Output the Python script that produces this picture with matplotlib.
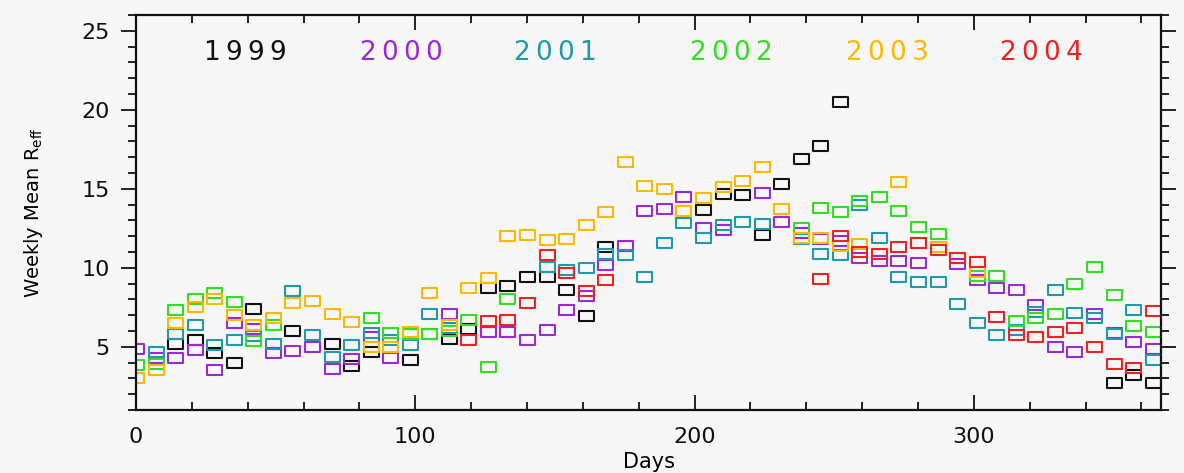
import numpy as np
import matplotlib
matplotlib.use("Agg")
import matplotlib.pyplot as plt
from matplotlib.path import Path
from matplotlib.ticker import MultipleLocator

nan = np.nan

# Day of year for each weekly mean
days = list(range(0, 365, 7))

r1999 = [nan, nan, 5.2, 5.4, 4.6, 3.95, 7.4, nan, 6.0, nan, 5.15, 3.8, 4.7, nan,
         4.16, 5.84, 5.5, 6.1, 8.7, 8.86, 9.43, 9.43, 8.6, 6.96, 11.3, nan, nan, nan,
         nan, 13.65, 14.7, 14.6, 12.07, 15.3, 16.9, 17.7, 20.5, nan, nan, nan, nan, nan,
         nan, nan, nan, nan, nan, nan, nan, nan, 2.7, 3.2, 2.7]
r2000 = [4.85, 4.3, 4.26, 4.8, 3.52, 6.5, 6.1, 4.58, 4.75, 5.0, 3.57, 4.2, 5.6, 4.3,
         nan, nan, 7.07, nan, 5.95, 5.95, 5.46, 6.05, 7.36, 8.2, 10.2, 11.4, 13.6, 13.7,
         14.5, 12.5, 12.4, nan, 14.75, 12.9, 12.2, 11.8, 11.7, 10.6, 10.4, 10.4, 10.3, nan,
         10.27, 9.2, 8.75, 8.6, 7.64, 5.0, 4.7, 7.1, 5.9, 5.3, 4.85]
r2001 = [nan, 4.7, 5.84, 6.37, 5.1, 5.46, 5.7, 5.2, 8.5, 5.74, 4.37, 5.1, 5.9, 5.4,
         5.1, 7.07, 6.2, nan, nan, nan, nan, 10.06, 9.85, 9.96, 10.9, 10.8, 9.39, 11.6,
         12.85, 11.86, 12.7, 12.9, 12.8, nan, 11.8, 10.9, 10.8, 14.0, 11.86, 9.43, 9.1, 9.1,
         7.74, 6.5, 5.74, 6.05, 7.2, 8.6, 7.17, 6.8, 5.84, 7.3, 4.16]
r2002 = [3.84, 3.9, 7.36, 8.0, 8.4, 7.85, 5.35, 6.37, nan, nan, nan, nan, 6.8, 5.85,
         5.8, 5.84, 6.0, 6.7, 3.7, 8.0, nan, nan, nan, nan, nan, nan, nan, nan,
         nan, nan, nan, nan, nan, nan, 12.5, 13.8, 13.5, 14.2, 14.45, 13.6, 12.6, 12.17,
         nan, 9.5, 9.5, 6.65, 6.8, 7.1, 9.0, 10.06, 8.3, 6.3, 5.95]
r2003 = [3.0, 3.5, 6.5, 7.5, 8.0, 7.0, 6.4, 6.8, 7.8, 7.9, 7.1, 6.58, 5.0, 5.0,
         5.95, 8.4, 6.4, 8.7, 9.37, 12.0, 12.1, 11.75, 11.8, 12.7, 13.5, 16.7, 15.2, 15.0,
         13.6, 14.4, 15.1, 15.5, 16.35, 13.7, 11.86, 11.86, 11.4, 11.5, nan, 15.44, 11.6, 11.3,
         10.6, 9.75, nan, nan, nan, nan, nan, nan, nan, nan, nan]
r2004 = [nan, nan, nan, nan, nan, nan, nan, nan, nan, nan, nan, nan, nan, nan,
         nan, nan, nan, 5.4, 6.65, 6.7, 7.8, 10.8, 9.64, 8.5, 9.2, nan, nan, nan,
         nan, nan, nan, nan, nan, nan, nan, 9.3, 12.0, 11.0, 10.9, 11.33, 11.54, 11.1,
         10.6, 10.38, 6.9, 5.74, 5.6, 5.95, 6.2, 5.0, 3.88, 3.63, 7.26]

years = ["1999", "2000", "2001", "2002", "2003", "2004"]
series = [r1999, r2000, r2001, r2002, r2003, r2004]
colors = ["#111111", "#9a2ad6", "#1f9aaa", "#33dd22", "#ffb800", "#ee2222"]

# open rectangle marker, wider than tall
rect = Path([(-1, -0.72), (1, -0.72), (1, 0.72), (-1, 0.72), (-1, -0.72)],
            [Path.MOVETO, Path.LINETO, Path.LINETO, Path.LINETO, Path.CLOSEPOLY])

bg = "#f7f7f7"
fig = plt.figure(figsize=(11.84, 4.73), dpi=100, facecolor=bg)
ax = fig.add_axes([0.1149, 0.1332, 0.9806 - 0.1149, 0.9683 - 0.1332], facecolor=bg)

for vals, c in zip(series, colors):
    ax.plot(days, vals, linestyle="none", marker=rect, markersize=10.8,
            markerfacecolor="none", markeredgecolor=c, markeredgewidth=1.5,
            clip_on=True)

ax.set_xlim(0, 367)
ax.set_ylim(1, 26)
ax.xaxis.set_major_locator(MultipleLocator(100))
ax.xaxis.set_minor_locator(MultipleLocator(20))
ax.yaxis.set_major_locator(MultipleLocator(5))
ax.yaxis.set_minor_locator(MultipleLocator(1))
ax.set_yticks([5, 10, 15, 20, 25])

ax.tick_params(axis="x", which="both", direction="in", top=True, bottom=True,
               labelsize=16, pad=12, width=1.3, colors="#111111")
ax.tick_params(axis="x", which="major", length=11)
ax.tick_params(axis="x", which="minor", length=6)
ax.tick_params(axis="y", which="both", direction="out", left=True, right=True,
               labelsize=16, pad=8, width=1.3, colors="#111111")
ax.tick_params(axis="y", which="major", length=11)
ax.tick_params(axis="y", which="minor", length=6)
for s in ax.spines.values():
    s.set_linewidth(1.6)
    s.set_color("#111111")

ax.set_xlabel("Days", fontsize=15, labelpad=4)
ax.set_ylabel(r"Weekly Mean R$_{\rm eff}$", fontsize=14, labelpad=26)

# year key across the top
key_x = [39, 95, 150, 213, 269, 324]
for yr, c, xk in zip(years, colors, key_x):
    ax.text(xk, 23.6, "\u2009".join(yr), color=c, fontsize=19,
            ha="center", va="center")

fig.savefig("out.png", dpi=100, facecolor=bg)
